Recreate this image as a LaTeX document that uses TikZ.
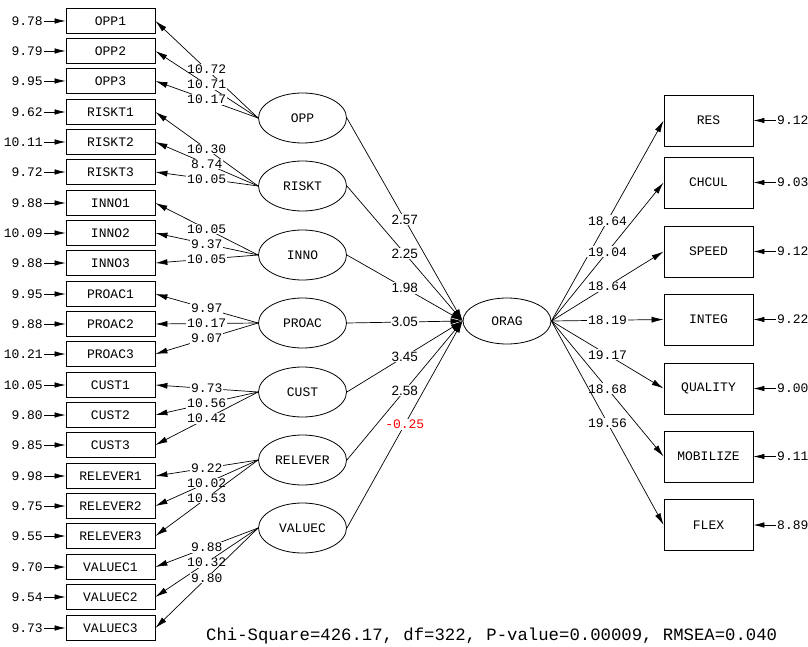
\documentclass[tikz,border=0pt]{standalone}
\usepackage{fontspec}
\usepackage{tikz}
\usetikzlibrary{arrows.meta, shapes.geometric}
\newfontfamily\lisfont{Liberation Mono}
\newfontfamily\coeffont{Liberation Sans}

\begin{document}
\begin{tikzpicture}[
    x=1pt, y=-1pt,
    >=Latex,
    obsbox/.style={draw, line width=0.8pt, minimum width=89pt, minimum height=25pt, inner sep=0pt, font=\lisfont\fontsize{13}{13}\selectfont},
    ybox/.style={obsbox, minimum height=51pt},
    latent/.style={draw, ellipse, line width=0.8pt, minimum width=88pt, minimum height=50pt, inner sep=0pt, font=\lisfont\fontsize{13}{13}\selectfont},
    errlabel/.style={inner sep=1pt, font=\lisfont\fontsize{13}{13}\selectfont},
    load/.style={fill=white, inner sep=1pt, font=\lisfont\fontsize{13}{13}\selectfont},
    path/.style={fill=white, inner sep=1pt, font=\coeffont\fontsize{13.5}{14}\selectfont},
    arr/.style={-{Latex[length=12pt, width=6pt]}, line width=0.7pt},
    earr/.style={-{Latex[length=11pt, width=5.5pt]}, line width=0.7pt},
]
\useasboundingbox (0,0) rectangle (808,647);

% ============ indicators of the exogenous factors ============
\node[obsbox] (opp1) at (110.5, 21) {OPP1};
\node[obsbox] (opp2) at (110.5, 51) {OPP2};
\node[obsbox] (opp3) at (110.5, 81) {OPP3};
\node[obsbox] (riskt1) at (110.5, 112) {RISKT1};
\node[obsbox] (riskt2) at (110.5, 142) {RISKT2};
\node[obsbox] (riskt3) at (110.5, 172) {RISKT3};
\node[obsbox] (inno1) at (110.5, 203) {INNO1};
\node[obsbox] (inno2) at (110.5, 233) {INNO2};
\node[obsbox] (inno3) at (110.5, 263) {INNO3};
\node[obsbox] (proac1) at (110.5, 294) {PROAC1};
\node[obsbox] (proac2) at (110.5, 324) {PROAC2};
\node[obsbox] (proac3) at (110.5, 354) {PROAC3};
\node[obsbox] (cust1) at (110.5, 385) {CUST1};
\node[obsbox] (cust2) at (110.5, 415) {CUST2};
\node[obsbox] (cust3) at (110.5, 445) {CUST3};
\node[obsbox] (relever1) at (110.5, 476) {RELEVER1};
\node[obsbox] (relever2) at (110.5, 506) {RELEVER2};
\node[obsbox] (relever3) at (110.5, 536) {RELEVER3};
\node[obsbox] (valuec1) at (110.5, 567) {VALUEC1};
\node[obsbox] (valuec2) at (110.5, 597) {VALUEC2};
\node[obsbox] (valuec3) at (110.5, 628) {VALUEC3};

% error variances
\node[errlabel, anchor=east] (e_opp1) at (44, 21) {9.78};
\node[errlabel, anchor=east] (e_opp2) at (44, 51) {9.79};
\node[errlabel, anchor=east] (e_opp3) at (44, 81) {9.95};
\node[errlabel, anchor=east] (e_riskt1) at (44, 112) {9.62};
\node[errlabel, anchor=east] (e_riskt2) at (44, 142) {10.11};
\node[errlabel, anchor=east] (e_riskt3) at (44, 172) {9.72};
\node[errlabel, anchor=east] (e_inno1) at (44, 203) {9.88};
\node[errlabel, anchor=east] (e_inno2) at (44, 233) {10.09};
\node[errlabel, anchor=east] (e_inno3) at (44, 263) {9.88};
\node[errlabel, anchor=east] (e_proac1) at (44, 294) {9.95};
\node[errlabel, anchor=east] (e_proac2) at (44, 324) {9.88};
\node[errlabel, anchor=east] (e_proac3) at (44, 354) {10.21};
\node[errlabel, anchor=east] (e_cust1) at (44, 385) {10.05};
\node[errlabel, anchor=east] (e_cust2) at (44, 415) {9.80};
\node[errlabel, anchor=east] (e_cust3) at (44, 445) {9.85};
\node[errlabel, anchor=east] (e_relever1) at (44, 476) {9.98};
\node[errlabel, anchor=east] (e_relever2) at (44, 506) {9.75};
\node[errlabel, anchor=east] (e_relever3) at (44, 536) {9.55};
\node[errlabel, anchor=east] (e_valuec1) at (44, 567) {9.70};
\node[errlabel, anchor=east] (e_valuec2) at (44, 597) {9.54};
\node[errlabel, anchor=east] (e_valuec3) at (44, 628) {9.73};

\draw[earr] (e_opp1) -- (opp1);
\draw[earr] (e_opp2) -- (opp2);
\draw[earr] (e_opp3) -- (opp3);
\draw[earr] (e_riskt1) -- (riskt1);
\draw[earr] (e_riskt2) -- (riskt2);
\draw[earr] (e_riskt3) -- (riskt3);
\draw[earr] (e_inno1) -- (inno1);
\draw[earr] (e_inno2) -- (inno2);
\draw[earr] (e_inno3) -- (inno3);
\draw[earr] (e_proac1) -- (proac1);
\draw[earr] (e_proac2) -- (proac2);
\draw[earr] (e_proac3) -- (proac3);
\draw[earr] (e_cust1) -- (cust1);
\draw[earr] (e_cust2) -- (cust2);
\draw[earr] (e_cust3) -- (cust3);
\draw[earr] (e_relever1) -- (relever1);
\draw[earr] (e_relever2) -- (relever2);
\draw[earr] (e_relever3) -- (relever3);
\draw[earr] (e_valuec1) -- (valuec1);
\draw[earr] (e_valuec2) -- (valuec2);
\draw[earr] (e_valuec3) -- (valuec3);

% ============ exogenous factors ============
\node[latent] (opp) at (302.5, 118) {OPP};
\node[latent] (riskt) at (302.5, 186) {RISKT};
\node[latent] (inno) at (302.5, 255) {INNO};
\node[latent] (proac) at (302.5, 323) {PROAC};
\node[latent] (cust) at (302.5, 392) {CUST};
\node[latent] (relever) at (302.5, 460) {RELEVER};
\node[latent] (valuec) at (302.5, 528) {VALUEC};

% loadings
\draw[arr] (opp.west) -- node[load] {10.72} (opp1.east);
\draw[arr] (opp.west) -- node[load] {10.71} (opp2.east);
\draw[arr] (opp.west) -- node[load] {10.17} (opp3.east);
\draw[arr] (riskt.west) -- node[load] {10.30} (riskt1.east);
\draw[arr] (riskt.west) -- node[load] {8.74} (riskt2.east);
\draw[arr] (riskt.west) -- node[load] {10.05} (riskt3.east);
\draw[arr] (inno.west) -- node[load] {10.05} (inno1.east);
\draw[arr] (inno.west) -- node[load] {9.37} (inno2.east);
\draw[arr] (inno.west) -- node[load] {10.05} (inno3.east);
\draw[arr] (proac.west) -- node[load] {9.97} (proac1.east);
\draw[arr] (proac.west) -- node[load] {10.17} (proac2.east);
\draw[arr] (proac.west) -- node[load] {9.07} (proac3.east);
\draw[arr] (cust.west) -- node[load] {9.73} (cust1.east);
\draw[arr] (cust.west) -- node[load] {10.56} (cust2.east);
\draw[arr] (cust.west) -- node[load] {10.42} (cust3.east);
\draw[arr] (relever.west) -- node[load] {9.22} (relever1.east);
\draw[arr] (relever.west) -- node[load] {10.02} (relever2.east);
\draw[arr] (relever.west) -- node[load] {10.53} (relever3.east);
\draw[arr] (valuec.west) -- node[load] {9.88} (valuec1.east);
\draw[arr] (valuec.west) -- node[load] {10.32} (valuec2.east);
\draw[arr] (valuec.west) -- node[load] {9.80} (valuec3.east);

% ============ endogenous factor ============
\node[latent, minimum height=46pt] (orag) at (507, 321) {ORAG};

\draw[arr] (opp.east) -- node[path] {2.57} (orag.west);
\draw[arr] (riskt.east) -- node[path] {2.25} (orag.west);
\draw[arr] (inno.east) -- node[path] {1.98} (orag.west);
\draw[arr] (proac.east) -- node[path] {3.05} (orag.west);
\draw[arr] (cust.east) -- node[path] {3.45} (orag.west);
\draw[arr] (relever.east) -- node[path] {2.58} (orag.west);
\draw[arr] (valuec.east) -- node[load, text=red] {-0.25} (orag.west);

% ============ indicators of ORAG ============
\node[ybox] (res) at (708.5, 120.5) {RES};
\node[ybox] (chcul) at (708.5, 182.5) {CHCUL};
\node[ybox] (speed) at (708.5, 251.5) {SPEED};
\node[ybox] (integ) at (708.5, 319.5) {INTEG};
\node[ybox] (quality) at (708.5, 388.5) {QUALITY};
\node[ybox] (mobilize) at (708.5, 456.5) {MOBILIZE};
\node[ybox] (flex) at (708.5, 525) {FLEX};

\draw[arr] (orag.east) -- node[load] {18.64} (res.west);
\draw[arr] (orag.east) -- node[load] {19.04} (chcul.west);
\draw[arr] (orag.east) -- node[load] {18.64} (speed.west);
\draw[arr] (orag.east) -- node[load] {18.19} (integ.west);
\draw[arr] (orag.east) -- node[load] {19.17} (quality.west);
\draw[arr] (orag.east) -- node[load] {18.68} (mobilize.west);
\draw[arr] (orag.east) -- node[load] {19.56} (flex.west);

\node[errlabel, anchor=west] (e_res) at (776, 120.5) {9.12};
\node[errlabel, anchor=west] (e_chcul) at (776, 182.5) {9.03};
\node[errlabel, anchor=west] (e_speed) at (776, 251.5) {9.12};
\node[errlabel, anchor=west] (e_integ) at (776, 319.5) {9.22};
\node[errlabel, anchor=west] (e_quality) at (776, 388.5) {9.00};
\node[errlabel, anchor=west] (e_mobilize) at (776, 456.5) {9.11};
\node[errlabel, anchor=west] (e_flex) at (776, 525) {8.89};

\draw[earr] (e_res) -- (res);
\draw[earr] (e_chcul) -- (chcul);
\draw[earr] (e_speed) -- (speed);
\draw[earr] (e_integ) -- (integ);
\draw[earr] (e_quality) -- (quality);
\draw[earr] (e_mobilize) -- (mobilize);
\draw[earr] (e_flex) -- (flex);

% fit statistics
\node[anchor=west, inner sep=0pt, font=\lisfont\fontsize{17.3}{18}\selectfont] (fit) at (206, 636) {Chi-Square=426.17, df=322, P-value=0.00009, RMSEA=0.040};

\end{tikzpicture}
\end{document}
